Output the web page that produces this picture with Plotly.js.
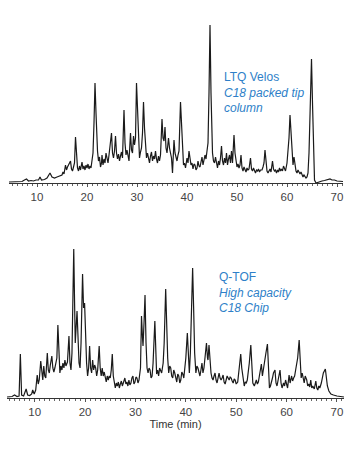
<!DOCTYPE html>
<html>
<head>
<meta charset="utf-8">
<script src="https://cdn.plot.ly/plotly-3.0.1.min.js"></script>
<style>html,body{margin:0;padding:0;background:#fff;}#chart{width:356px;height:451px;}</style>
</head>
<body>
<div id="chart"></div>
<script>
// Top chromatogram (LTQ Velos, C18 packed tip column): [time (min), signal]
const ltqPoints = [[4.4,1],[5.5,1.5],[6.5,2],[7.0,1.5],[7.5,3],[7.9,4],[8.3,2],[8.8,2.5],[9.3,2],[9.8,3],[10.3,3],[10.6,6],[10.9,3],[11.5,3.5],[12.0,5],[12.6,10],[13.0,6],[13.5,5],[14.0,6],[14.5,7],
[15.0,8],[15.2,11],[15.4,9],[15.7,18],[15.9,13],[16.1,16],[16.4,19],[16.7,22],[16.9,14],[17.1,12],[17.3,16],[17.5,20],[17.7,46],[17.9,22],[18.1,15],[18.3,12],[18.5,17],[18.7,13],[19.0,21],[19.2,14],[19.4,17],[19.6,13],[19.8,18],[20.0,15],[20.2,19],[20.4,14],[20.6,17],[20.8,15],[21.0,22],[21.2,30],[21.4,60],[21.6,100],[21.8,70],[21.9,45],[22.1,32],[22.3,22],[22.5,26],[22.7,16],[22.9,20],[23.0,28],[23.2,18],[23.4,24],[23.6,20],[23.8,30],[24.0,22],[24.2,20],[24.4,28],[24.6,35],[24.9,50],[25.1,30],[25.3,25],[25.5,32],[25.7,47],[25.9,30],[26.1,24],[26.3,29],[26.5,22],[26.7,27],[26.9,31],[27.1,25],[27.4,73],[27.6,40],[27.8,28],[28.0,33],[28.2,25],[28.4,22],[28.7,50],[28.9,33],[29.1,30],[29.3,47],[29.5,38],[29.7,45],[29.9,100],[30.1,70],[30.3,40],[30.5,25],[30.7,31],[30.9,35],[31.1,50],[31.3,81],[31.5,55],[31.7,35],[31.9,25],[32.1,30],[32.3,24],[32.5,20],[32.7,27],[32.9,31],[33.1,22],[33.3,27],[33.5,24],[33.7,32],[33.9,24],[34.1,20],[34.3,27],[34.5,22],[34.7,28],[35.0,64],[35.2,45],[35.4,42],[35.6,56],[35.8,35],[36.0,30],[36.3,45],[36.5,35],[36.7,28],[36.9,25],[37.1,10],[37.4,43],[37.6,30],[37.8,25],[38.0,22],[38.2,28],[38.4,32],[38.7,81],[38.9,55],[39.1,30],[39.3,18],[39.5,20],[39.7,15],[40.0,25],[40.2,20],[40.4,32],[40.6,22],[40.8,18],[41.0,20],[41.2,14],[41.4,19],[41.6,18],[41.8,13],[42.0,15],[42.2,22],[42.4,17],[42.6,16],[42.8,21],[43.0,26],[43.2,18],[43.4,22],[43.6,28],[43.8,24],[44.0,30],[44.2,40],[44.4,90],[44.6,158],[44.8,90],[44.9,50],[45.1,30],[45.3,22],[45.5,20],[45.7,26],[45.9,18],[46.1,15],[46.3,22],[46.5,18],[46.7,25],[46.9,37],[47.1,22],[47.3,18],[47.5,25],[47.7,20],[47.9,30],[48.1,18],[48.3,24],[48.5,28],[48.7,20],[48.9,32],[49.1,20],[49.4,48],[49.6,30],[49.8,20],[50.0,16],[50.2,19],[50.4,15],[50.6,18],[50.8,28],[51.0,15],[51.2,12],[51.4,16],[51.6,13],[51.8,11],[52.0,15],[52.2,13],[52.4,14],[52.7,25],[52.9,14],[53.1,12],[53.3,15],[53.5,13],[53.7,10],[53.9,13],[54.1,12],[54.3,14],[54.5,11],[54.7,13],[55.0,13],[55.2,16],[55.4,20],[55.6,33],[55.8,18],[56.0,12],[56.2,10],[56.4,12],[56.6,14],[56.8,11],[57.1,22],[57.3,14],[57.5,12],[57.7,13],[57.9,10],[58.1,13],[58.3,11],[58.5,15],[58.7,12],[58.9,14],[59.1,12],[59.3,17],[59.5,14],[59.7,12],[60.0,20],[60.2,30],[60.4,45],[60.6,68],[60.8,50],[61.0,25],[61.2,18],[61.4,26],[61.6,15],[61.8,12],[62.0,10],[62.2,13],[62.4,11],[62.6,9],[62.8,11],[63.0,7],[63.2,6],[63.4,8],[63.6,7],[63.8,5],[64.0,6],[64.2,10],[64.4,30],[64.6,70],[64.9,124],[65.1,80],[65.3,30],[65.5,3],[65.8,0],[66.3,1],[67.0,2],[67.5,2.5],[68.0,3.5],[68.6,4],[69.0,3],[69.5,3],[70.0,2],[71.2,1.5]];

// Bottom chromatogram (Q-TOF, High capacity C18 Chip): [time (min), signal]
const qtofPoints = [[4.5,1],[5.5,1.5],[6.0,3],[6.5,1.5],[6.9,2],[7.15,44],[7.4,3],[7.8,2],[8.3,9],[8.6,3],[9.0,2.5],[9.4,4],[9.6,8],[9.9,4],[10.2,8],[10.5,23],[10.7,14],[10.9,18],[11.2,37],[11.4,22],[11.6,18],[11.8,32],[12.0,22],[12.2,20],[12.5,45],[12.7,28],[12.9,25],[13.1,33],[13.4,42],[13.6,30],[13.8,26],[14.0,30],[14.2,35],[14.4,40],[14.6,73],[14.8,35],[15.0,25],[15.2,32],[15.4,28],[15.6,35],[15.8,30],[16.0,38],[16.2,32],[16.5,36],[16.8,62],[17.0,35],[17.2,28],[17.4,45],[17.6,100],[17.75,149],[17.9,100],[18.05,55],[18.4,87],[18.6,50],[18.8,35],[19.0,30],[19.2,55],[19.5,124],[19.7,90],[19.9,95],[20.1,55],[20.3,35],[20.5,22],[20.7,30],[20.9,52],[21.1,30],[21.3,25],[21.5,38],[21.7,28],[21.9,33],[22.1,30],[22.3,22],[22.5,28],[22.8,52],[23.0,30],[23.2,22],[23.4,30],[23.6,22],[23.8,26],[24.0,20],[24.2,16],[24.4,22],[24.6,18],[24.8,22],[25.0,20],[25.2,28],[25.4,44],[25.6,22],[25.8,14],[26.0,10],[26.2,15],[26.4,12],[26.6,16],[26.8,10],[27.0,14],[27.2,17],[27.4,12],[27.6,15],[27.9,20],[28.1,14],[28.3,16],[28.5,12],[28.7,18],[28.9,13],[29.1,15],[29.3,20],[29.5,22],[29.7,14],[29.9,16],[30.1,21],[30.3,20],[30.5,15],[30.7,18],[31.0,30],[31.2,82],[31.4,60],[31.5,52],[31.7,75],[31.9,103],[32.1,55],[32.3,30],[32.5,25],[32.7,30],[32.9,28],[33.1,20],[33.3,22],[33.5,35],[33.85,77],[34.05,35],[34.2,24],[34.4,28],[34.6,22],[34.8,30],[35.0,28],[35.2,25],[35.5,35],[35.7,55],[36.0,109],[36.2,70],[36.4,40],[36.6,25],[36.8,32],[37.0,30],[37.2,22],[37.4,20],[37.6,28],[37.8,25],[38.0,18],[38.2,16],[38.4,24],[38.6,22],[38.8,15],[39.0,18],[39.2,26],[39.4,24],[39.6,20],[39.8,30],[40.0,40],[40.3,65],[40.5,35],[40.7,25],[40.9,45],[41.15,100],[41.35,130],[41.55,90],[41.75,45],[42.0,25],[42.2,32],[42.4,30],[42.6,24],[42.8,22],[43.0,28],[43.2,35],[43.4,25],[43.6,30],[43.8,40],[44.1,55],[44.3,40],[44.4,38],[44.6,53],[44.8,35],[45.0,25],[45.2,20],[45.4,18],[45.6,22],[45.8,25],[46.0,18],[46.2,15],[46.4,20],[46.6,25],[46.8,20],[47.0,18],[47.2,20],[47.4,23],[47.6,16],[47.8,14],[48.0,18],[48.2,22],[48.4,20],[48.6,18],[48.8,21],[49.0,20],[49.2,17],[49.4,15],[49.6,19],[49.8,18],[50.0,14],[50.3,16],[50.6,30],[50.9,44],[51.1,30],[51.3,20],[51.6,12],[51.8,16],[52.0,15],[52.2,18],[52.4,25],[52.6,35],[52.9,53],[53.1,25],[53.3,15],[53.6,12],[53.8,16],[54.0,18],[54.2,14],[54.4,16],[54.6,22],[54.8,28],[55.0,34],[55.2,22],[55.4,30],[55.6,35],[55.9,45],[56.2,54],[56.4,25],[56.6,10],[56.8,12],[57.0,15],[57.2,20],[57.4,25],[57.7,28],[57.9,15],[58.1,12],[58.4,20],[58.7,28],[58.9,15],[59.1,10],[59.4,15],[59.6,12],[59.8,18],[60.0,14],[60.2,10],[60.5,23],[60.7,15],[61.0,22],[61.2,17],[61.4,20],[61.6,22],[61.8,28],[62.0,35],[62.2,40],[62.5,58],[62.7,40],[62.9,20],[63.1,25],[63.3,18],[63.5,15],[63.7,22],[64.0,18],[64.2,12],[64.4,14],[64.6,11],[64.8,18],[65.0,10],[65.2,12],[65.5,9],[65.8,17],[66.0,10],[66.2,8],[66.4,12],[66.6,10],[66.9,15],[67.1,20],[67.3,25],[67.7,29],[67.9,22],[68.1,12],[68.4,7],[68.8,4],[69.3,3],[70.0,2],[71.4,1]];

const xTicks = [10,20,30,40,50,60,70];
const xTickLabels = ['10','20','30','40','50','60','70'];
const minorTicks = [5,6,7,8,9,11,12,13,14,15,16,17,18,19,21,22,23,24,25,26,27,28,29,31,32,33,34,35,36,37,38,39,41,42,43,44,45,46,47,48,49,51,52,53,54,55,56,57,58,59,61,62,63,64,65,66,67,68,69,71];
const topLabel = ['LTQ Velos','C18 packed tip','column'];
const bottomLabel = ['Q-TOF','High capacity','C18 Chip'];
const xTitle = 'Time (min)';

const W = 356, H = 451;
const FONT = 'Liberation Sans, Arial, sans-serif';
const lineStyle = {color:'#1a1a1a', width:1.2};

const traces = [
  {x: ltqPoints.map(p => p[0]), y: ltqPoints.map(p => p[1]), xaxis:'x', yaxis:'y', type:'scatter', mode:'lines', line: lineStyle, hoverinfo:'skip'},
  {x: qtofPoints.map(p => p[0]), y: qtofPoints.map(p => p[1]), xaxis:'x2', yaxis:'y2', type:'scatter', mode:'lines', line: lineStyle, hoverinfo:'skip'}
];

function xAxis(domain, range, anchor, title) {
  const ax = {
    domain: domain, range: range, anchor: anchor,
    showgrid:false, zeroline:false,
    showline:true, linecolor:'#333', linewidth:1.2,
    ticks:'outside', ticklen:3, tickwidth:1, tickcolor:'#555',
    tickvals: xTicks, ticktext: xTickLabels,
    tickfont:{family:FONT, size:11.5, color:'#444'},
    minor:{tickvals: minorTicks, ticks:'outside', ticklen:2, tickcolor:'#666', showgrid:false},
    fixedrange:true
  };
  if (title) {
    ax.title = {text:title, font:{family:FONT, size:11, color:'#333'}, standoff:3};
  }
  return ax;
}
function yAxis(domain, range, anchor) {
  return {domain:domain, range:range, anchor:anchor, visible:false, showgrid:false, zeroline:false, fixedrange:true};
}

const layout = {
  width: W, height: H,
  margin:{l:0, r:0, t:0, b:0},
  paper_bgcolor:'#fff', plot_bgcolor:'#fff',
  showlegend:false,
  xaxis: xAxis([9/W, 343/W], [4.4, 71.2], 'y', null),
  yaxis: yAxis([(H-183)/H, (H-20)/H], [0, 163], 'x'),
  xaxis2: xAxis([7/W, 344/W], [4.5, 71.4], 'y2', xTitle),
  yaxis2: yAxis([(H-398)/H, (H-240)/H], [0, 158], 'x2'),
  annotations: [
    {xref:'paper', yref:'paper', x:222/W, y:1-93/H, xanchor:'left', yanchor:'middle', align:'left', showarrow:false,
     text: topLabel[0] + '<br><i>' + topLabel[1] + '</i><br><i>' + topLabel[2] + '</i>',
     font:{family:FONT, size:12, color:'#2e7fc8'}},
    {xref:'paper', yref:'paper', x:217/W, y:1-292/H, xanchor:'left', yanchor:'middle', align:'left', showarrow:false,
     text: bottomLabel[0] + '<br><i>' + bottomLabel[1] + '</i><br><i>' + bottomLabel[2] + '</i>',
     font:{family:FONT, size:12, color:'#2e7fc8'}}
  ]
};

Plotly.newPlot('chart', traces, layout, {staticPlot:true, displayModeBar:false});
</script>
</body>
</html>
